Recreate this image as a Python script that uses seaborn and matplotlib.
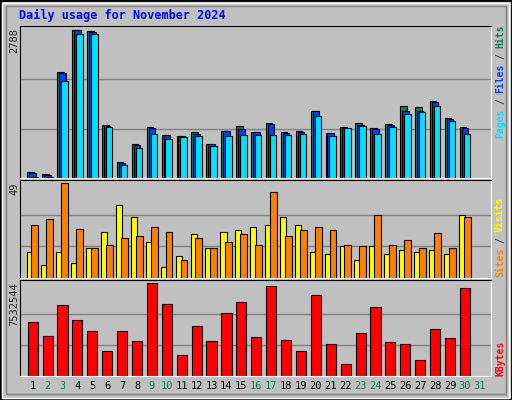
import matplotlib
matplotlib.use("Agg")
import matplotlib.pyplot as plt
import seaborn as sns
import numpy as np
import pandas as pd
from matplotlib.patches import Rectangle

days = list(range(1, 31))
day_labels = [str(d) for d in range(1, 32)]
weekend = [2, 3, 9, 10, 16, 17, 23, 24, 30, 31]
hits = [114, 76, 1996, 2788, 2756, 988, 304, 634, 950, 817, 798, 874, 646, 893, 969,
        874, 1026, 874, 893, 1261, 855, 950, 1026, 931, 1007, 1350, 1330, 1444, 1121, 950]
files = [95, 63, 1977, 2788, 2750, 976, 285, 621, 931, 811, 792, 836, 634, 893, 912,
         862, 1007, 855, 874, 1254, 843, 938, 1001, 912, 1001, 1254, 1254, 1426, 1109, 931]
pages = [19, 19, 1825, 2712, 2712, 950, 241, 570, 836, 741, 779, 798, 608, 798, 817,
         817, 817, 817, 836, 1159, 798, 931, 969, 836, 950, 1197, 1236, 1350, 1064, 836]
visits = [13.5, 6.6, 13.5, 7.6, 15.6, 23.6, 37.5, 31.6, 18.3, 5.5, 11.4, 22.6, 15.6, 23.6, 24.7,
          26.3, 27.4, 31.6, 27.4, 13.5, 12.4, 16.7, 9.2, 16.7, 12.4, 14.5, 13.5, 14.5, 12.4, 32.7]
sites = [27.4, 30.5, 49, 25.2, 15.6, 17.2, 20.4, 21.5, 26.3, 23.6, 9.2, 20.4, 15.6, 18.3, 22.6,
         17.2, 44.4, 21.5, 24.7, 26.3, 24.7, 17.2, 16.7, 32.7, 17.2, 19.4, 15.6, 23.4, 15.6, 31.6]
kbytes = [4399000, 3247000, 5717000, 4565000, 3653000, 2004000, 3653000, 2832000, 7532544, 5800000,
          1680000, 4068000, 2832000, 5062000, 5966000, 3134000, 7284000, 2915000, 2004000, 6546000,
          2584000, 934000, 3495000, 5551000, 2749000, 2584000, 1265000, 3819000, 3081000, 7118000]

sns.set_style("white")
plt.rcParams['font.family'] = ['DejaVu Sans Mono', 'DejaVu Sans']
BG = "#C0C0C0"
fig = plt.figure(figsize=(5.12, 4.0), dpi=100, facecolor=BG)
W, H = 512, 400

fig.add_artist(Rectangle((0, 0), 1, 1, transform=fig.transFigure, fill=False, ec="black", lw=2))
fig.add_artist(Rectangle((2/W, 2/H), 1-5/W, 1-5/H, transform=fig.transFigure, fill=False, ec="white", lw=1))
fig.add_artist(Rectangle((6/W, 6/H), 1-12/W, 1-12/H, transform=fig.transFigure, fill=False, ec="#808080", lw=1))

fig.text(19/W, 1-15/H, "Daily usage for November 2024", color="#0000FF", fontsize=8.5,
         fontweight="bold", va="center", ha="left")

def mkax(top, bottom):
    ax = fig.add_axes([20/W, 1-bottom/H, 471/W, (bottom-top)/H])
    ax.set_facecolor(BG)
    for s in ["left", "top"]:
        ax.spines[s].set_color("black")
    for s in ["right", "bottom"]:
        ax.spines[s].set_color("white")
    ax.set_xlim(-0.85, 30.75)
    ax.set_xticks([]); ax.set_yticks([])
    return ax

x = np.arange(30)
ek = dict(edgecolor="black", linewidth=0.8)

ax1 = mkax(26, 178)
mx = max(hits)
ax1.set_ylim(0, mx * 1.025)
for f in (1/3, 2/3):
    ax1.axhline(mx * f, color="#808080", lw=1, zorder=0)
ax1.bar(x - 0.13, hits, width=0.44, color="#00805C", **ek)
ax1.bar(x, files, width=0.44, color="#0040FF", **ek)
ax1.bar(x + 0.13, pages, width=0.44, color="#00E0FF", **ek)

ax2 = mkax(180, 278)
mx = max(sites)
ax2.set_ylim(0, mx * 1.03)
for f in (1/3, 2/3):
    ax2.axhline(mx * f, color="#808080", lw=1, zorder=0)
ax2.bar(x - 0.2, visits, width=0.42, color="#FFFF00", **ek)
ax2.bar(x + 0.15, sites, width=0.46, color="#FF8000", **ek)

ax3 = mkax(280, 376)
mx = max(kbytes)
df = pd.DataFrame({"day": x, "kb": kbytes})
for f in (1/3, 2/3):
    ax3.axhline(mx * f, color="#808080", lw=1, zorder=0)
sns.barplot(data=df, x="day", y="kb", color="#FF0000", native_scale=True, width=0.68,
            saturation=1, ax=ax3, **ek)
ax3.set_xlim(-0.85, 30.75)
ax3.set_ylim(0, mx * 1.03)
ax3.set_xlabel(""); ax3.set_ylabel("")
ax3.set_xticks([]); ax3.set_yticks([])

for i, lab in enumerate(day_labels):
    col = "#00805C" if int(lab) in weekend else "black"
    ax3.text(i, -0.05, lab, transform=ax3.get_xaxis_transform(), ha="center", va="top",
             fontsize=7.5, color=col)

for ytop, txt in [(28, "2788"), (182, "49"), (282, "7532544")]:
    fig.text(14/W, 1-ytop/H, txt, rotation=90, ha="center", va="top", fontsize=7.5)

def vlegend(ybottom, parts):
    y = ybottom
    for txt, col, ln in parts:
        fig.text(500/W, 1-y/H, txt, rotation=90, ha="center", va="bottom", fontsize=7,
                 fontweight="bold", color=col)
        y -= ln

vlegend(138, [("Pages", "#00E0FF", 34), ("/", "#404040", 11), ("Files", "#0040FF", 34),
              ("/", "#404040", 11), ("Hits", "#00805C", 28)])
vlegend(277, [("Sites", "#FF8000", 34), ("/", "#404040", 11), ("Visits", "#FFFF00", 40)])
vlegend(376, [("KBytes", "#FF0000", 40)])

fig.savefig("out.png", dpi=100, facecolor=BG)
